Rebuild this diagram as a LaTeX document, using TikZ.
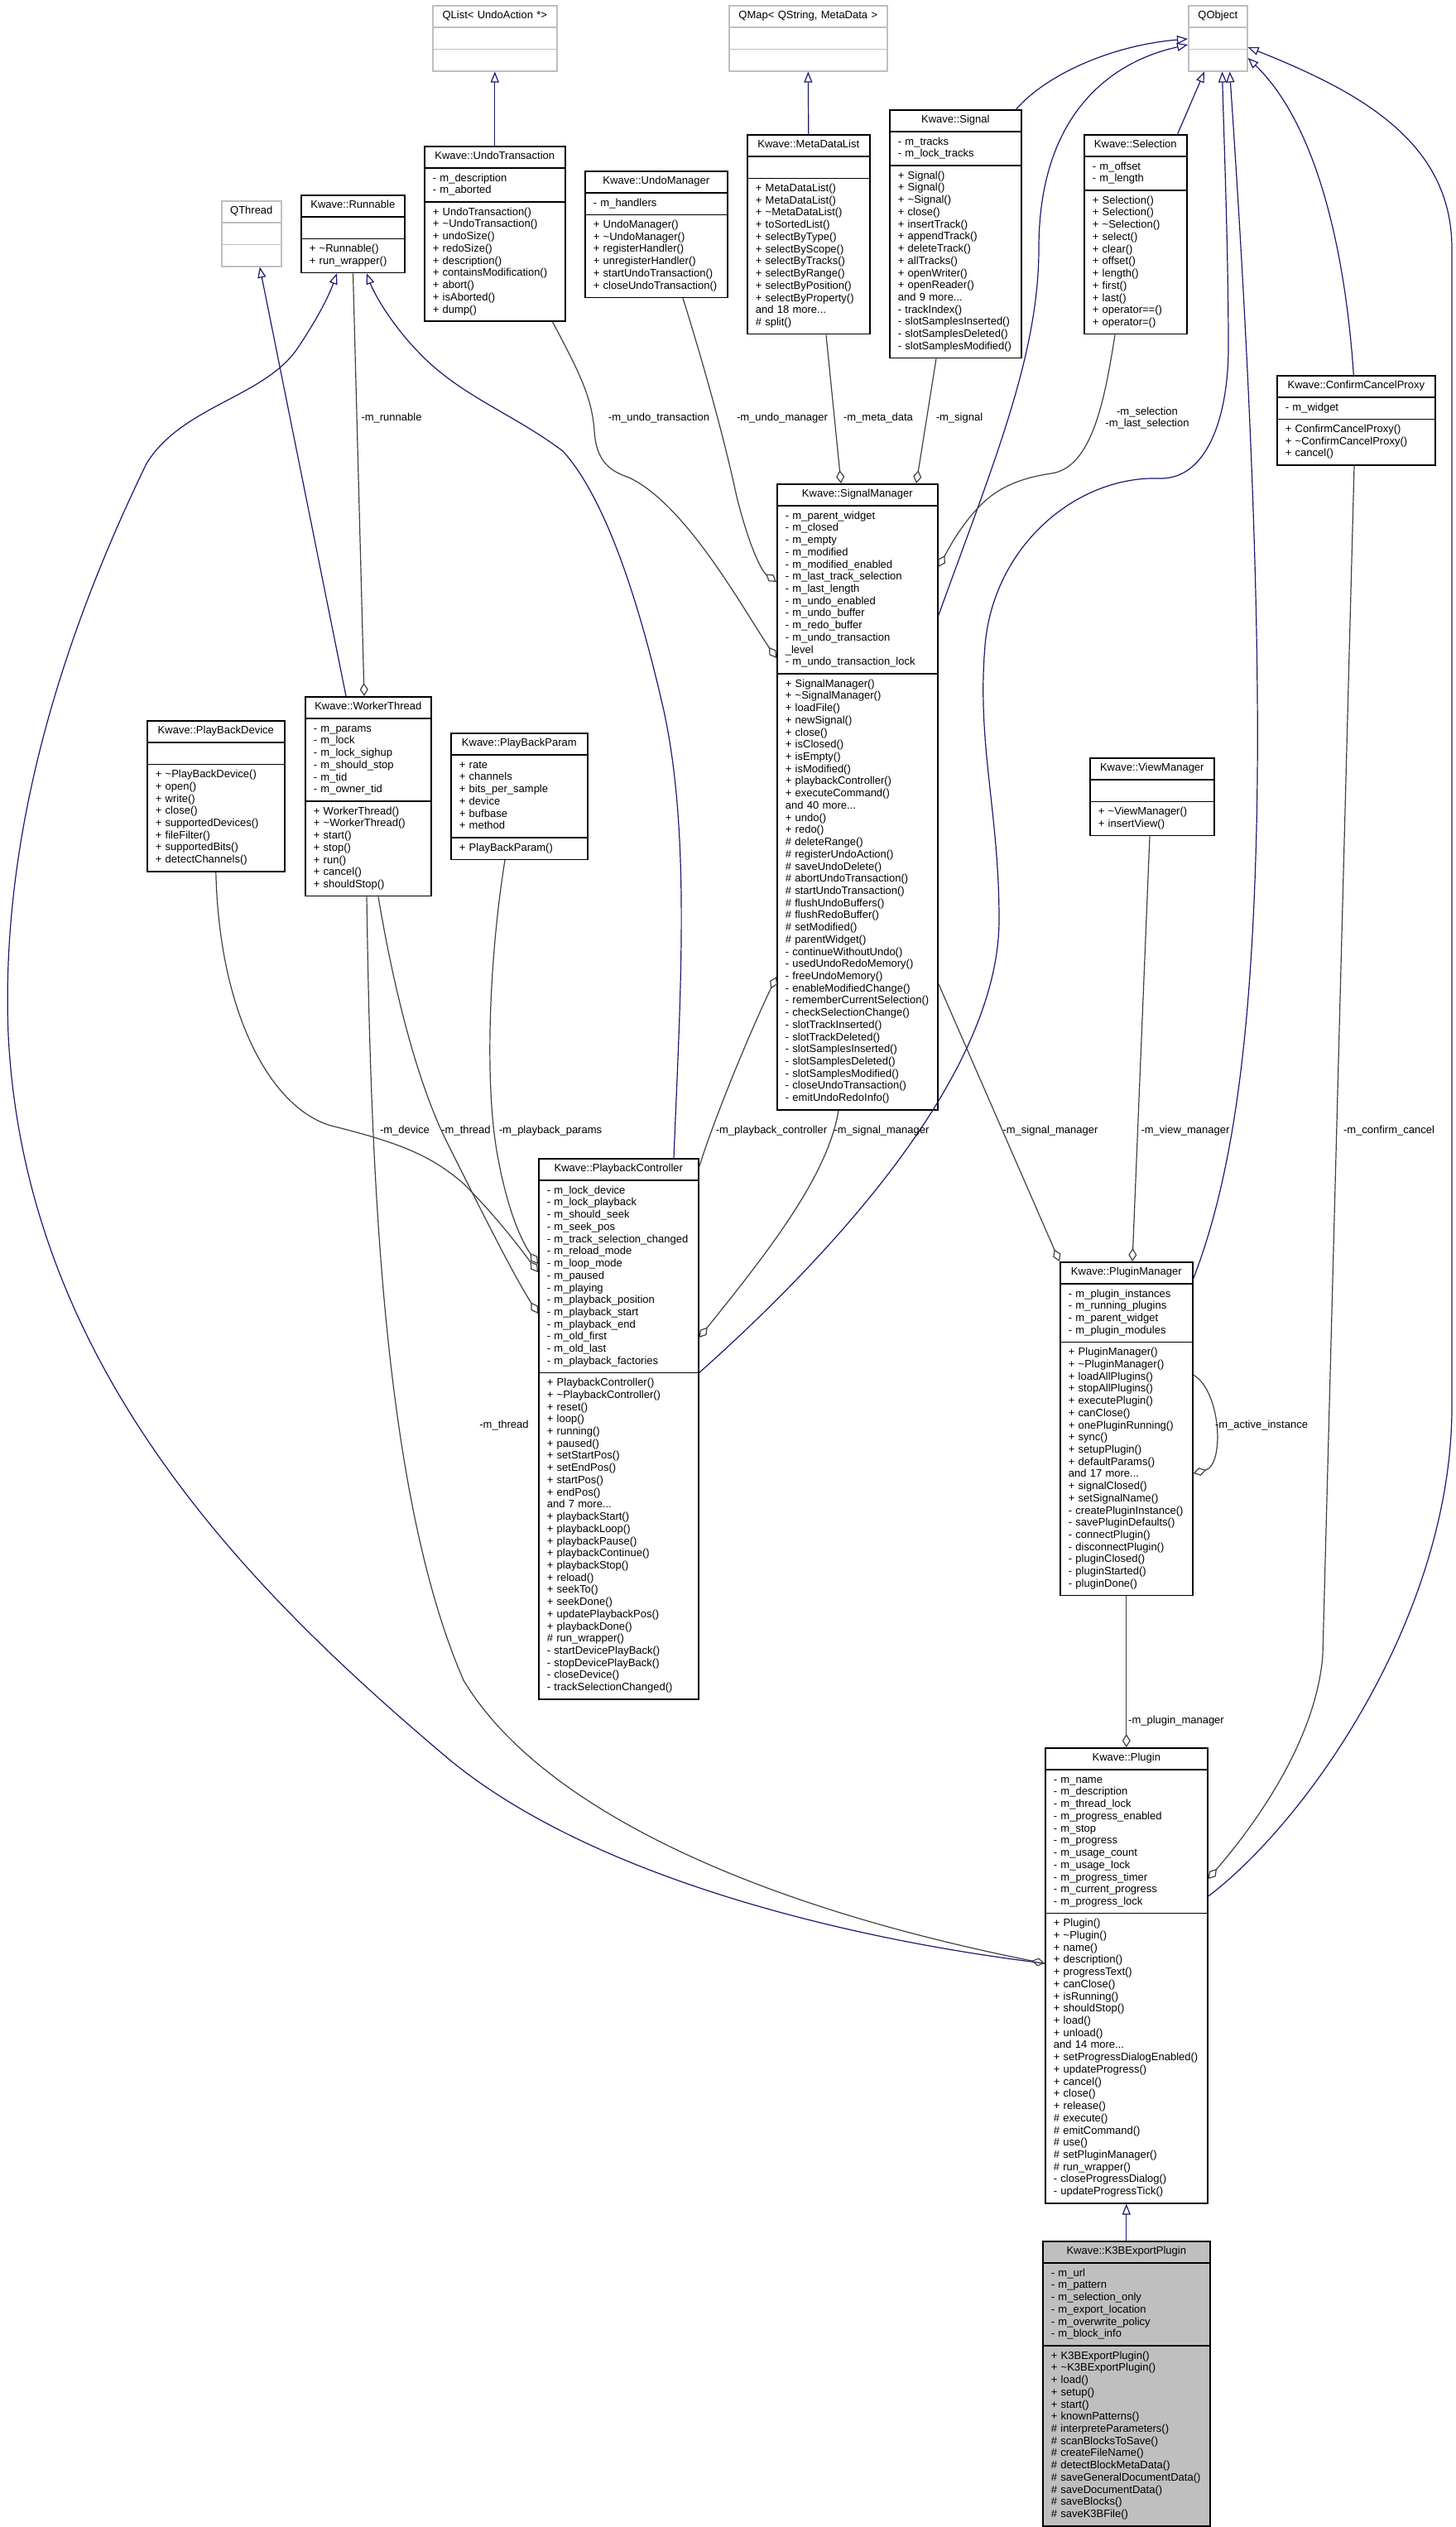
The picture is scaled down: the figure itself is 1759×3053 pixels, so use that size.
\documentclass[tikz,border=0pt]{standalone}
\usepackage{fontspec}
\setmainfont{Liberation Sans}
\usetikzlibrary{shapes.multipart,arrows.meta,calc}

\definecolor{edgeblue}{HTML}{191970}
\definecolor{edgegray}{HTML}{404040}
\definecolor{extgray}{HTML}{BFBFBF}

\newcommand{\umlfont}{\fontsize{6.5}{7.36}\selectfont}
\newcommand{\members}[1]{\noindent\begin{tabular}{@{}l@{}}\strut#1\end{tabular}}
\newcommand{\classtitle}[1]{\centering\members{#1}\par}
\newcommand{\tld}{\textasciitilde}
\newcommand{\umlclass}[7][]{\node[classbox,text width=#4,#1] (#2) at (#3) {\classtitle{#5}\nodepart{two}\members{#6}\nodepart{three}\members{#7}};}

\tikzset{
  classbox/.style={rectangle split, rectangle split parts=3, draw=black, line width=0.8pt,
    anchor=north west, inner xsep=5pt, inner ysep=2.5pt, font=\umlfont, align=left},
  extclass/.style={draw=extgray},
  k3bclass/.style={fill=extgray},
  inherit/.style={draw=edgeblue, line width=0.6pt, -{Triangle[open,length=6.5pt,width=5pt]}},
  uses/.style={draw=edgegray, line width=0.6pt, -{Diamond[open,length=8pt,width=5pt]}},
  lbl/.style={font=\umlfont, inner sep=0pt},
}

\begin{document}
\begin{tikzpicture}[x=0.5pt,y=-0.5pt]
\useasboundingbox (0,0) rectangle (1759,3053);

% classes
\umlclass[extclass]{qlist}{522,6}{65pt}{QList< UndoAction *>}{}{}
\umlclass[extclass]{qmap}{880,6}{85.5pt}{QMap< QString, MetaData >}{}{}
\umlclass[extclass]{qobject}{1435,6}{25.5pt}{QObject}{}{}
\umlclass[extclass]{qthread}{267,242}{26pt}{QThread}{}{}
\umlclass{runnable}{363,235}{52.5pt}{Kwave::Runnable}{}{+ \tld Runnable()\\+ run\_wrapper()}
\umlclass{undotrans}{512,176}{75pt}{Kwave::UndoTransaction}{- m\_description\\- m\_aborted}{+ UndoTransaction()\\+ \tld UndoTransaction()\\+ undoSize()\\+ redoSize()\\+ description()\\+ containsModification()\\+ abort()\\+ isAborted()\\+ dump()}
\umlclass{undomgr}{706,206}{76pt}{Kwave::UndoManager}{- m\_handlers}{+ UndoManager()\\+ \tld UndoManager()\\+ registerHandler()\\+ unregisterHandler()\\+ startUndoTransaction()\\+ closeUndoTransaction()}
\umlclass{metalist}{902,162}{64pt}{Kwave::MetaDataList}{}{+ MetaDataList()\\+ MetaDataList()\\+ \tld MetaDataList()\\+ toSortedList()\\+ selectByType()\\+ selectByScope()\\+ selectByTracks()\\+ selectByRange()\\+ selectByPosition()\\+ selectByProperty()\\and 18 more...\\\# split()}
\umlclass{signal}{1074,132}{69.5pt}{Kwave::Signal}{- m\_tracks\\- m\_lock\_tracks}{+ Signal()\\+ Signal()\\+ \tld Signal()\\+ close()\\+ insertTrack()\\+ appendTrack()\\+ deleteTrack()\\+ allTracks()\\+ openWriter()\\+ openReader()\\and 9 more...\\- trackIndex()\\- slotSamplesInserted()\\- slotSamplesDeleted()\\- slotSamplesModified()}
\umlclass{selection}{1309,162}{52pt}{Kwave::Selection}{- m\_offset\\- m\_length}{+ Selection()\\+ Selection()\\+ \tld Selection()\\+ select()\\+ clear()\\+ offset()\\+ length()\\+ first()\\+ last()\\+ operator==()\\+ operator=()}
\umlclass{ccproxy}{1542,453}{85.5pt}{Kwave::ConfirmCancelProxy}{- m\_widget}{+ ConfirmCancelProxy()\\+ \tld ConfirmCancelProxy()\\+ cancel()}
\umlclass{sigmgr}{938,584}{87pt}{Kwave::SignalManager}{- m\_parent\_widget\\- m\_closed\\- m\_empty\\- m\_modified\\- m\_modified\_enabled\\- m\_last\_track\_selection\\- m\_last\_length\\- m\_undo\_enabled\\- m\_undo\_buffer\\- m\_redo\_buffer\\- m\_undo\_transaction\\\_level\\- m\_undo\_transaction\_lock}{+ SignalManager()\\+ \tld SignalManager()\\+ loadFile()\\+ newSignal()\\+ close()\\+ isClosed()\\+ isEmpty()\\+ isModified()\\+ playbackController()\\+ executeCommand()\\and 40 more...\\+ undo()\\+ redo()\\\# deleteRange()\\\# registerUndoAction()\\\# saveUndoDelete()\\\# abortUndoTransaction()\\\# startUndoTransaction()\\\# flushUndoBuffers()\\\# flushRedoBuffer()\\\# setModified()\\\# parentWidget()\\- continueWithoutUndo()\\- usedUndoRedoMemory()\\- freeUndoMemory()\\- enableModifiedChange()\\- rememberCurrentSelection()\\- checkSelectionChange()\\- slotTrackInserted()\\- slotTrackDeleted()\\- slotSamplesInserted()\\- slotSamplesDeleted()\\- slotSamplesModified()\\- closeUndoTransaction()\\- emitUndoRedoInfo()}
\umlclass{pbdevice}{177,870}{73pt}{Kwave::PlayBackDevice}{}{+ \tld PlayBackDevice()\\+ open()\\+ write()\\+ close()\\+ supportedDevices()\\+ fileFilter()\\+ supportedBits()\\+ detectChannels()}
\umlclass{worker}{368,841}{66pt}{Kwave::WorkerThread}{- m\_params\\- m\_lock\\- m\_lock\_sighup\\- m\_should\_stop\\- m\_tid\\- m\_owner\_tid}{+ WorkerThread()\\+ \tld WorkerThread()\\+ start()\\+ stop()\\+ run()\\+ cancel()\\+ shouldStop()}
\umlclass{pbparam}{544,885}{72.5pt}{Kwave::PlayBackParam}{+ rate\\+ channels\\+ bits\_per\_sample\\+ device\\+ bufbase\\+ method}{+ PlayBackParam()}
\umlclass{viewmgr}{1316,915}{65pt}{Kwave::ViewManager}{}{+ \tld ViewManager()\\+ insertView()}
\umlclass{pbctrl}{650,1399}{86.5pt}{Kwave::PlaybackController}{- m\_lock\_device\\- m\_lock\_playback\\- m\_should\_seek\\- m\_seek\_pos\\- m\_track\_selection\_changed\\- m\_reload\_mode\\- m\_loop\_mode\\- m\_paused\\- m\_playing\\- m\_playback\_position\\- m\_playback\_start\\- m\_playback\_end\\- m\_old\_first\\- m\_old\_last\\- m\_playback\_factories}{+ PlaybackController()\\+ \tld PlaybackController()\\+ reset()\\+ loop()\\+ running()\\+ paused()\\+ setStartPos()\\+ setEndPos()\\+ startPos()\\+ endPos()\\and 7 more...\\+ playbackStart()\\+ playbackLoop()\\+ playbackPause()\\+ playbackContinue()\\+ playbackStop()\\+ reload()\\+ seekTo()\\+ seekDone()\\+ updatePlaybackPos()\\+ playbackDone()\\\# run\_wrapper()\\- startDevicePlayBack()\\- stopDevicePlayBack()\\- closeDevice()\\- trackSelectionChanged()}
\umlclass{pluginmgr}{1280,1524}{70pt}{Kwave::PluginManager}{- m\_plugin\_instances\\- m\_running\_plugins\\- m\_parent\_widget\\- m\_plugin\_modules}{+ PluginManager()\\+ \tld PluginManager()\\+ loadAllPlugins()\\+ stopAllPlugins()\\+ executePlugin()\\+ canClose()\\+ onePluginRunning()\\+ sync()\\+ setupPlugin()\\+ defaultParams()\\and 17 more...\\+ signalClosed()\\+ setSignalName()\\- createPluginInstance()\\- savePluginDefaults()\\- connectPlugin()\\- disconnectPlugin()\\- pluginClosed()\\- pluginStarted()\\- pluginDone()}
\umlclass{plugin}{1262,2111}{88pt}{Kwave::Plugin}{- m\_name\\- m\_description\\- m\_thread\_lock\\- m\_progress\_enabled\\- m\_stop\\- m\_progress\\- m\_usage\_count\\- m\_usage\_lock\\- m\_progress\_timer\\- m\_current\_progress\\- m\_progress\_lock}{+ Plugin()\\+ \tld Plugin()\\+ name()\\+ description()\\+ progressText()\\+ canClose()\\+ isRunning()\\+ shouldStop()\\+ load()\\+ unload()\\and 14 more...\\+ setProgressDialogEnabled()\\+ updateProgress()\\+ cancel()\\+ close()\\+ release()\\\# execute()\\\# emitCommand()\\\# use()\\\# setPluginManager()\\\# run\_wrapper()\\- closeProgressDialog()\\- updateProgressTick()}
\umlclass[k3bclass]{k3b}{1259,2707}{91pt}{Kwave::K3BExportPlugin}{- m\_url\\- m\_pattern\\- m\_selection\_only\\- m\_export\_location\\- m\_overwrite\_policy\\- m\_block\_info}{+ K3BExportPlugin()\\+ \tld K3BExportPlugin()\\+ load()\\+ setup()\\+ start()\\+ knownPatterns()\\\# interpreteParameters()\\\# scanBlocksToSave()\\\# createFileName()\\\# detectBlockMetaData()\\\# saveGeneralDocumentData()\\\# saveDocumentData()\\\# saveBlocks()\\\# saveK3BFile()}

% inheritance
\draw[inherit] (undotrans.north) -- (qlist.south);
\draw[inherit] (metalist.north) -- (qmap.south);
\draw[inherit] ($(worker.north west)+(50,0)$) -- ($(qthread.south)+(10,0)$);
\draw[inherit] (k3b.north) -- (plugin.south);
\draw[inherit] ($(signal.north east)+(-7,0)$) .. controls (1262,92) and (1340,55) .. ($(qobject.north west)+(0,41)$);
\draw[inherit] ($(sigmgr.north east)+(0,160)$) .. controls (1200,560) and (1255,430) .. (1255,300) .. controls (1255,140) and (1340,75) .. ($(qobject.north west)+(0,48)$);
\draw[inherit] ($(selection.north east)+(-12,0)$) -- ($(qobject.south west)+(20,0)$);
\draw[inherit] (pbctrl.two split east) .. controls (1000,1520) and (1207,1300) .. (1207,1111) .. controls (1207,980) and (1180,900) .. (1190,780) .. controls (1200,660) and (1300,575) .. (1400,578) .. controls (1460,580) and (1484,500) .. (1484,420) .. controls (1484,300) and (1478,150) .. ($(qobject.south east)+(-31,0)$);
\draw[inherit] ($(pluginmgr.north east)+(0,21)$) .. controls (1490,1420) and (1512,1250) .. (1518,1000) .. controls (1525,700) and (1500,300) .. ($(qobject.south east)+(-22,0)$);
\draw[inherit] ($(ccproxy.north)+(-3,0)$) .. controls (1625,300) and (1590,150) .. ($(qobject.north east)+(0,64)$);
\draw[inherit] ($(plugin.north east)+(0,180)$) .. controls (1580,2200) and (1754,1950) .. (1754,1700) -- (1754,300) .. controls (1754,170) and (1640,110) .. ($(qobject.north east)+(0,51)$);
\draw[inherit] ($(plugin.north west)+(0,261)$) .. controls (1000,2340) and (700,2260) .. (536,2120) .. controls (300,1920) and (30,1650) .. (10,1250) .. controls (0,1000) and (80,760) .. (177,560) .. controls (220,490) and (320,480) .. (360,420) .. controls (390,375) and (400,350) .. ($(runnable.south west)+(44,0)$);
\draw[inherit] ($(pbctrl.north west)+(164,0)$) .. controls (822,1200) and (835,1000) .. (800,850) .. controls (770,720) and (730,600) .. (680,545) .. controls (620,500) and (560,480) .. (510,430) .. controls (470,390) and (450,350) .. ($(runnable.south west)+(80,0)$);

% members
\draw[uses] ($(runnable.south west)+(63.5,0)$) -- ($(worker.north west)+(72,0)$);
\draw[uses] ($(undotrans.south east)+(-16,0)$) .. controls (700,450) and (715,480) .. (718,520) .. controls (720,560) and (740,570) .. (760,577) .. controls (830,610) and (900,740) .. ($(sigmgr.north west)+(0,211)$);
\draw[uses] ($(undomgr.south west)+(119,0)$) .. controls (850,440) and (875,530) .. (890,600) .. controls (905,660) and (920,690) .. ($(sigmgr.north west)+(0,119)$);
\draw[uses] ($(metalist.south west)+(96,0)$) -- ($(sigmgr.north west)+(78,0)$);
\draw[uses] ($(signal.south west)+(57,0)$) -- ($(sigmgr.north west)+(169,0)$);
\draw[uses] ($(selection.south west)+(38,0)$) .. controls (1335,480) and (1320,565) .. (1270,572) .. controls (1230,578) and (1205,590) .. (1185,610) .. controls (1160,635) and (1145,665) .. ($(sigmgr.north east)+(0,101)$);
\draw[uses] (pbdevice.south) .. controls (265,1230) and (330,1340) .. (400,1360) .. controls (480,1380) and (520,1395) .. (560,1430) .. controls (600,1470) and (630,1510) .. ($(pbctrl.north west)+(0,138)$);
\draw[uses] ($(pbparam.south west)+(66,0)$) .. controls (592,1150) and (585,1300) .. (600,1390) .. controls (612,1460) and (630,1500) .. ($(pbctrl.north west)+(0,128)$);
\draw[uses] ($(worker.south west)+(89,0)$) .. controls (480,1220) and (510,1320) .. (540,1380) .. controls (580,1460) and (620,1540) .. ($(pbctrl.north west)+(0,188)$);
\draw[uses] ($(worker.south west)+(75,0)$) .. controls (448,1400) and (460,1800) .. (560,2030) .. controls (650,2180) and (900,2300) .. ($(plugin.north west)+(0,261)$);
\draw[uses] ($(pbctrl.north east)+(0,11)$) .. controls (860,1360) and (900,1260) .. ($(sigmgr.north west)+(0,596)$);
\draw[uses] ($(sigmgr.south west)+(75,0)$) .. controls (1000,1420) and (930,1510) .. ($(pbctrl.north east)+(0,217)$);
\draw[uses] ($(sigmgr.north east)+(0,604)$) -- (pluginmgr.north west);
\draw[uses] ($(viewmgr.south west)+(73,0)$) -- ($(pluginmgr.north west)+(88,0)$);
\draw[uses] ($(pluginmgr.north east)+(0,137)$) .. controls (1475,1680) and (1480,1770) .. ($(pluginmgr.north east)+(0,256)$);
\draw[uses] (pluginmgr.south) -- (plugin.north);
\draw[uses] ($(ccproxy.south west)+(94,0)$) -- (1598,2000) .. controls (1590,2100) and (1520,2200) .. ($(plugin.north east)+(0,159)$);

% labels
\foreach \lx/\ly/\txt [count=\i] in {473/505/-m\_runnable, 796/505/-m\_undo\_transaction,
    945/505/-m\_undo\_manager, 1061/505/-m\_meta\_data, 1159/505/-m\_signal,
    489/1366/-m\_device, 563/1366/-m\_thread, 665/1366/-m\_playback\_params,
    932/1366/-m\_playback\_controller, 1065/1366/-m\_signal\_manager,
    1269/1366/-m\_signal\_manager, 1432/1366/-m\_view\_manager, 1678/1366/-m\_confirm\_cancel,
    609/1722/-m\_thread, 1524/1722/-m\_active\_instance, 1421/2079/-m\_plugin\_manager}
  \node[lbl] (label\i) at (\lx,\ly) {\txt};
\node[lbl,align=center] (selectionlabel) at (1386,505) {-m\_selection\\-m\_last\_selection};
\end{tikzpicture}
\end{document}
